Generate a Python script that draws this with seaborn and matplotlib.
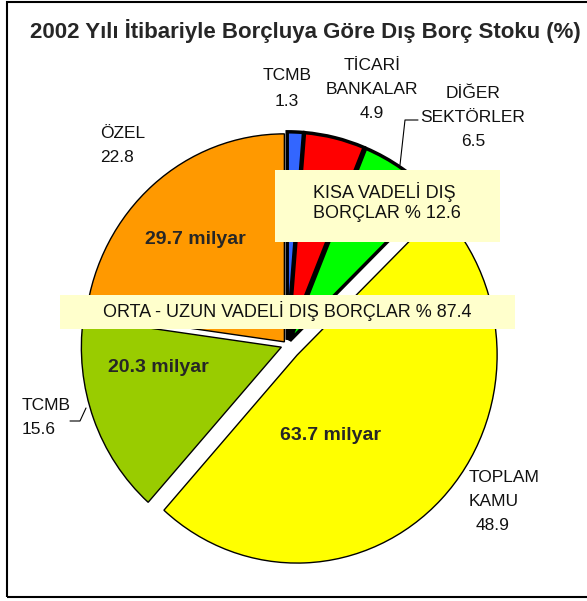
import matplotlib
matplotlib.use("Agg")
import matplotlib.pyplot as plt
import seaborn as sns
from matplotlib.patches import Rectangle

sns.set_style("white")
plt.rcParams['font.family'] = ['Liberation Sans', 'DejaVu Sans']

# veriler (saat yönünde, tepeden başlayarak)
borclu = ['TCMB', 'TİCARİ BANKALAR', 'DİĞER SEKTÖRLER', 'TOPLAM KAMU', 'TCMB', 'ÖZEL']
pay = [1.3, 4.9, 6.5, 48.9, 15.6, 22.8]
renkler = ['#3366FF', '#FF0000', '#00FF00', '#FFFF00', '#99CC00', '#FF9900']
patlama = [0.025, 0.025, 0.025, 0.07, 0.03, 0.02]
milyar = ['63.7 milyar', '20.3 milyar', '29.7 milyar']
kisa_vadeli = 12.6
orta_uzun_vadeli = 87.4

W, H = 587, 601
fig = plt.figure(figsize=(W / 100, H / 100), dpi=100)

# pasta: merkez (287, 345) piksel, yarıçap 200 x 208 piksel
cx, cy, rx, ry = 287, 345, 200, 208
axp = fig.add_axes([(cx - 1.3 * rx) / W, (H - cy - 1.3 * ry) / H, 2.6 * rx / W, 2.6 * ry / H])
wedges, _ = axp.pie(pay, colors=renkler, startangle=90, counterclock=False,
                    explode=patlama, wedgeprops=dict(edgecolor='black', linewidth=1.0))
for w in wedges[:3]:
    w.set_linewidth(2.5)
axp.set_aspect('auto')
axp.set_xlim(-1.3, 1.3)
axp.set_ylim(-1.3, 1.3)
axp.axis('off')

# yazılar için piksel koordinatlı üst eksen
ax = fig.add_axes([0, 0, 1, 1])
ax.set_xlim(0, W)
ax.set_ylim(0, H)
ax.axis('off')


def Y(y):
    # piksel (yukarıdan) -> veri koordinatı
    return H - y


# çerçeve
ax.add_patch(Rectangle((7, Y(597)), 620, 595, fill=False, lw=1.5, ec='black', clip_on=False))

ax.text(305, Y(31), '2002 Yılı İtibariyle Borçluya Göre Dış Borç Stoku (%)',
        ha='center', va='center', fontsize=16, fontweight='bold')


def etiket(satirlar, x, y0, ha='center', aralik=25):
    for i, s in enumerate(satirlar):
        ax.text(x, Y(y0 + i * aralik), s, ha=ha, va='center', fontsize=12.5, color='#111111')


etiket([borclu[0], f'{pay[0]}'], 287, 76)
etiket(borclu[1].split(' ') + [f'{pay[1]}'], 372, 65, aralik=24)
etiket(borclu[2].split(' ') + [f'{pay[2]}'], 473, 93, aralik=24.5)
etiket(borclu[3].split(' '), 469, 477, ha='left', aralik=24)
etiket([f'{pay[3]}'], 476, 525, ha='left')
etiket([borclu[4], f'{pay[4]}'], 22, 405, ha='left')
etiket([borclu[5], f'{pay[5]}'], 100, 133, ha='left')

# kılavuz çizgileri
ax.plot([418, 405, 400], [Y(120), Y(120), Y(165)], color='black', lw=0.8)
ax.plot([70, 80, 86], [Y(421), Y(421), Y(408)], color='black', lw=0.8)

# milyar etiketleri
for s, (x, y) in zip(milyar, [(330, 436), (158, 367), (195, 239)]):
    ax.text(x, Y(y), s, ha='center', va='center', fontsize=14, fontweight='bold')

# vade kutuları
ax.add_patch(Rectangle((275, Y(242)), 225, 72, fc='#FFFFCC', ec='none'))
ax.text(313, Y(192), 'KISA VADELİ DIŞ', ha='left', va='center', fontsize=13, color='#111111')
ax.text(313, Y(214), f'BORÇLAR % {kisa_vadeli}', ha='left', va='center', fontsize=13, color='#111111')

ax.add_patch(Rectangle((60, Y(329)), 455, 34, fc='#FFFFCC', ec='none'))
ax.text(287, Y(311), f'ORTA - UZUN VADELİ DIŞ BORÇLAR % {orta_uzun_vadeli}',
        ha='center', va='center', fontsize=13, color='#111111')

fig.savefig('out.png', dpi=100)
